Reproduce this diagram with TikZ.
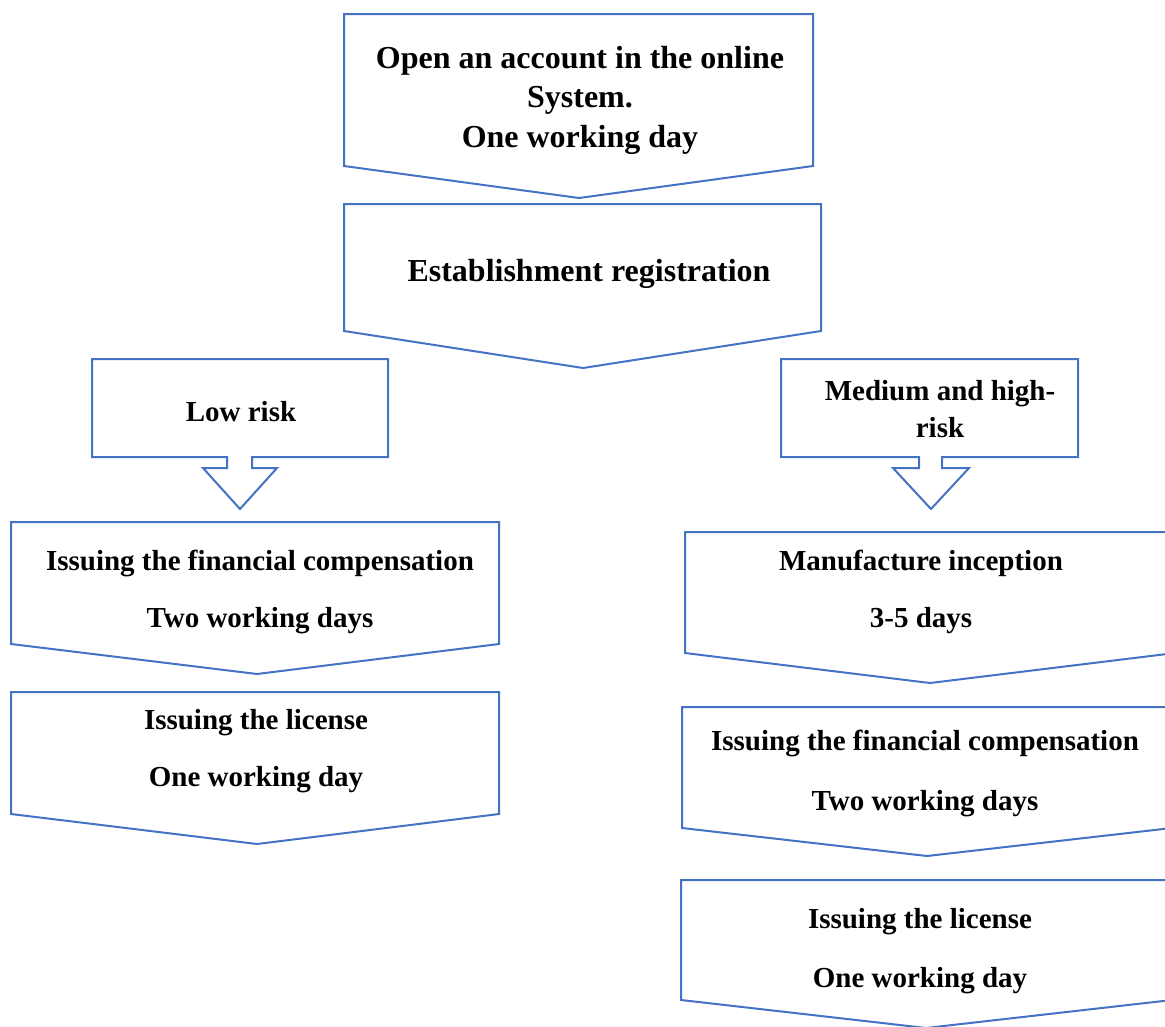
\documentclass[tikz,border=0pt]{standalone}
\usepackage{fontspec}
\setmainfont{Liberation Serif}
\definecolor{boxblue}{HTML}{4472C4}
\tikzset{
  shp/.style={draw=boxblue, line width=2pt, line join=miter, fill=white},
  txt/.style={font=\bfseries\fontsize{29}{33}\selectfont, align=center, inner sep=0pt, text=black},
  bigtxt/.style={font=\bfseries\fontsize{32}{38}\selectfont, align=center, inner sep=0pt, text=black}
}
\begin{document}
\begin{tikzpicture}[x=1pt,y=-1pt]
\useasboundingbox (0,0) rectangle (1165,1026);
\clip (0,0) rectangle (1165,1026);
% top chain
\draw[shp] (344,14) -- (813,14) -- (813,166) -- (579,198) -- (344,166) -- cycle;
\draw[shp] (344,204) -- (821,204) -- (821,331) -- (583,368) -- (344,331) -- cycle;
% low risk callout
\draw[shp] (92,359) -- (388,359) -- (388,457) -- (252,457) -- (252,468) -- (277,468) -- (240,509)
  -- (203,468) -- (227,468) -- (227,457) -- (92,457) -- cycle;
% medium callout
\draw[shp] (781,359) -- (1078,359) -- (1078,457) -- (942,457) -- (942,468) -- (969,468) -- (931,509)
  -- (893,468) -- (919,468) -- (919,457) -- (781,457) -- cycle;
% left column
\draw[shp] (11,522) -- (499,522) -- (499,644) -- (257,674) -- (11,644) -- cycle;
\draw[shp] (11,692) -- (499,692) -- (499,814) -- (257,844) -- (11,814) -- cycle;
% right column
\draw[shp] (685,532) -- (1175,532) -- (1175,653) -- (930,683) -- (685,653) -- cycle;
\draw[shp] (682,707) -- (1172,707) -- (1172,828) -- (927,856) -- (682,828) -- cycle;
\draw[shp] (681,880) -- (1172,880) -- (1172,1000) -- (926,1028) -- (681,1000) -- cycle;
% texts
\node[bigtxt] (t1) at (580,100) {Open an account in the online\\[1.5pt]System.\\[1.5pt]One working day};
\node[bigtxt] (t2) at (589,274) {Establishment registration};
\node[txt] (t3) at (241,412) {Low risk};
\node[txt] (t4) at (940,409) {Medium and high-\\[3.5pt]risk};
\node[txt] (t5) at (260,592) {Issuing the financial compensation\\[24pt]Two working days};
\node[txt] (t6) at (256,751) {Issuing the license\\[24pt]One working day};
\node[txt] (t7) at (921,592) {Manufacture inception\\[24pt]3-5 days};
\node[txt] (t8) at (925,773) {Issuing the financial compensation\\[27pt]Two working days};
\node[txt] (t9) at (920,951) {Issuing the license\\[26pt]One working day};
\end{tikzpicture}
\end{document}
